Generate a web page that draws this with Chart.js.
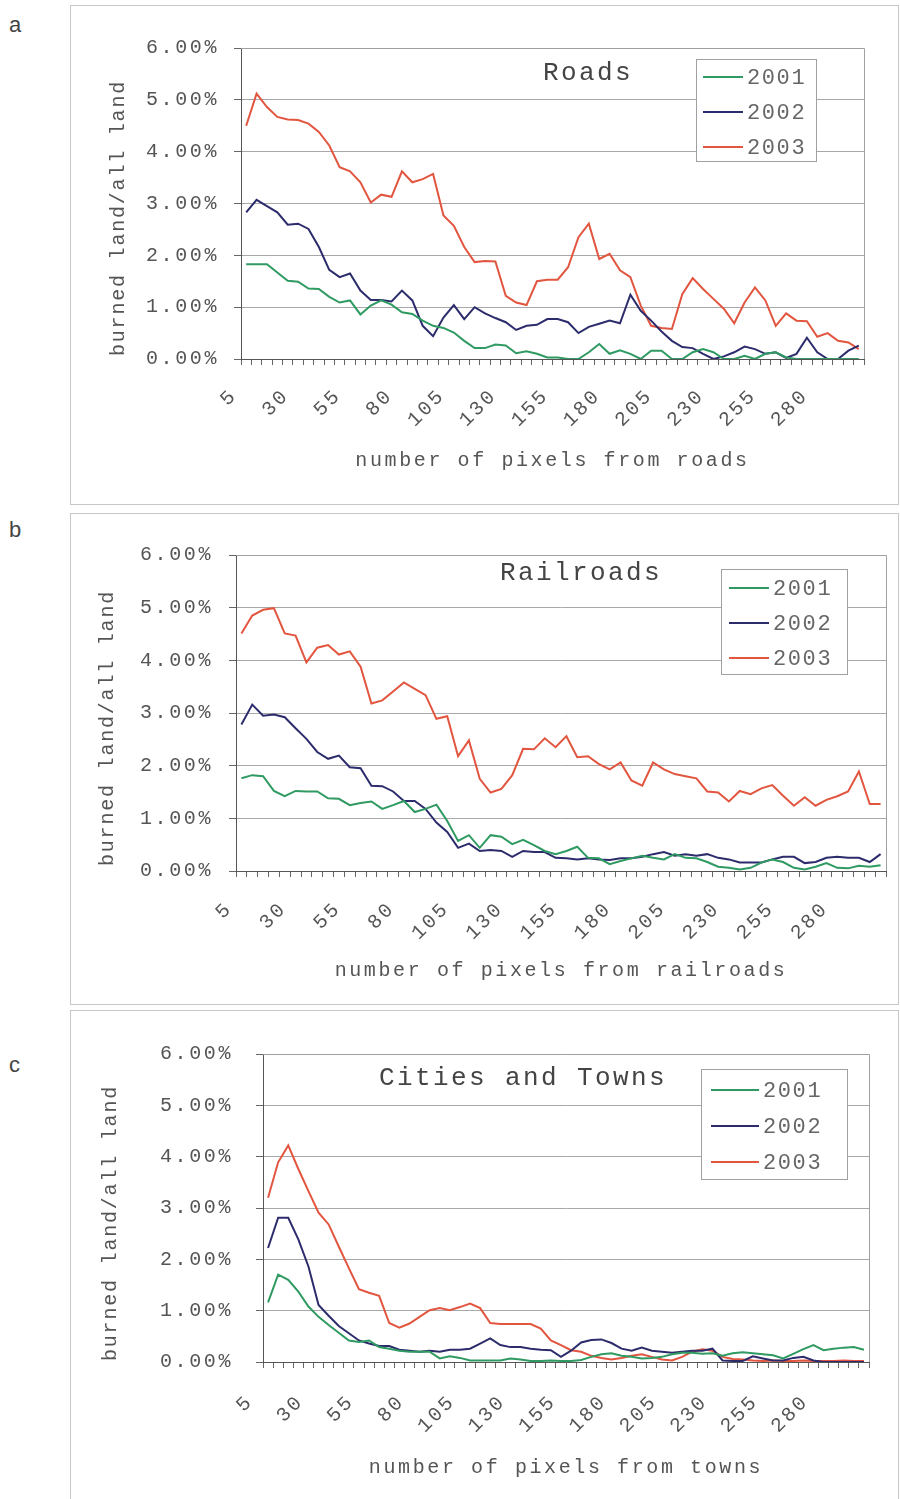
<!DOCTYPE html>
<html>
<head>
<meta charset="utf-8">
<script src="https://cdn.jsdelivr.net/npm/chart.js@4"></script>
<style>
  html, body { margin:0; padding:0; background:#fff; }
  body { width:900px; height:1499px; position:relative; overflow:hidden; }
  .box { position:absolute; left:70px; width:829px; border:1px solid #c8c8c8; box-sizing:border-box; background:#fff; }
  .letter { position:absolute; left:9px; font:22px "Liberation Sans", Arial, sans-serif; color:#444; }
  canvas { position:absolute; left:0; top:0; }
</style>
</head>
<body>
<div class="letter" style="top:12px">a</div>
<div class="letter" style="top:517px">b</div>
<div class="letter" style="top:1052px">c</div>
<div class="box" style="top:5px;height:500px"><canvas id="ca" width="829" height="500"></canvas></div>
<div class="box" style="top:513px;height:492px"><canvas id="cb" width="829" height="492"></canvas></div>
<div class="box" style="top:1010px;height:495px"><canvas id="cc" width="829" height="495"></canvas></div>
<script>
// ---------- data ----------
const categories = ['5','10','15','20','25','30','35','40','45','50','55','60','65','70','75','80','85','90','95','100',
  '105','110','115','120','125','130','135','140','145','150','155','160','165','170','175','180','185','190','195','200',
  '205','210','215','220','225','230','235','240','245','250','255','260','265','270','275','280','285','290','295','300'];
const tickLabels = ['5','30','55','80','105','130','155','180','205','230','255','280'];
const seriesNames = ['2001','2002','2003'];

const roads2001 = [1.83,1.83,1.83,1.67,1.51,1.49,1.36,1.35,1.20,1.09,1.13,0.86,1.03,1.13,1.05,0.90,0.87,0.74,0.64,0.60,
  0.51,0.35,0.21,0.21,0.28,0.26,0.11,0.15,0.10,0.03,0.03,0.00,0.00,0.13,0.29,0.10,0.17,0.10,0.00,0.16,
  0.16,0.00,0.00,0.13,0.19,0.13,0.00,0.00,0.06,0.00,0.10,0.13,0.03,0.00,0.00,0.00,0.00,0.00,0.00,0.00];
const roads2002 = [2.83,3.07,2.95,2.83,2.59,2.61,2.51,2.16,1.72,1.58,1.65,1.32,1.14,1.14,1.11,1.32,1.13,0.64,0.44,0.80,
  1.04,0.77,1.00,0.88,0.79,0.71,0.56,0.64,0.66,0.77,0.77,0.71,0.50,0.62,0.68,0.74,0.69,1.24,0.93,0.74,
  0.53,0.35,0.23,0.21,0.10,0.00,0.05,0.13,0.24,0.19,0.10,0.13,0.02,0.10,0.41,0.13,0.00,0.00,0.16,0.26];
const roads2003 = [4.50,5.12,4.86,4.67,4.62,4.61,4.54,4.38,4.12,3.70,3.62,3.41,3.02,3.17,3.13,3.62,3.41,3.47,3.57,2.77,
  2.57,2.16,1.87,1.89,1.88,1.22,1.09,1.04,1.50,1.53,1.53,1.77,2.35,2.61,1.93,2.03,1.71,1.58,1.03,0.64,
  0.60,0.58,1.25,1.56,1.35,1.16,0.97,0.69,1.09,1.38,1.13,0.64,0.88,0.74,0.73,0.43,0.50,0.35,0.32,0.19];

const rail2001 = [1.76,1.82,1.80,1.52,1.42,1.52,1.51,1.51,1.38,1.37,1.25,1.29,1.32,1.18,1.25,1.33,1.12,1.18,1.26,0.95,
  0.57,0.68,0.44,0.68,0.65,0.51,0.59,0.49,0.38,0.32,0.38,0.46,0.25,0.24,0.13,0.19,0.24,0.29,0.25,0.22,
  0.32,0.25,0.24,0.17,0.08,0.06,0.03,0.06,0.16,0.22,0.17,0.06,0.03,0.08,0.15,0.06,0.05,0.10,0.08,0.11];
const rail2002 = [2.78,3.16,2.95,2.97,2.92,2.71,2.51,2.26,2.13,2.19,1.97,1.95,1.62,1.61,1.51,1.33,1.33,1.18,0.92,0.74,
  0.44,0.52,0.38,0.40,0.38,0.27,0.38,0.36,0.36,0.25,0.24,0.22,0.24,0.22,0.21,0.24,0.24,0.27,0.32,0.36,
  0.29,0.32,0.29,0.32,0.25,0.22,0.16,0.16,0.16,0.22,0.27,0.27,0.15,0.17,0.25,0.27,0.25,0.25,0.17,0.32];
const rail2003 = [4.51,4.85,4.96,4.99,4.51,4.47,3.96,4.24,4.29,4.11,4.17,3.88,3.18,3.24,3.41,3.58,3.46,3.34,2.89,2.94,
  2.18,2.48,1.75,1.49,1.56,1.82,2.32,2.31,2.52,2.35,2.56,2.16,2.18,2.03,1.93,2.06,1.72,1.62,2.06,1.93,
  1.84,1.80,1.76,1.51,1.49,1.32,1.52,1.46,1.57,1.63,1.43,1.24,1.40,1.24,1.35,1.42,1.51,1.89,1.27,1.27];

const town2001 = [1.16,1.70,1.60,1.37,1.08,0.88,0.72,0.57,0.42,0.39,0.42,0.29,0.26,0.22,0.20,0.20,0.20,0.07,0.11,0.08,
  0.03,0.03,0.03,0.03,0.07,0.05,0.02,0.02,0.03,0.02,0.02,0.04,0.10,0.15,0.17,0.12,0.10,0.07,0.08,0.10,
  0.15,0.18,0.18,0.16,0.17,0.12,0.17,0.19,0.17,0.15,0.13,0.07,0.16,0.25,0.33,0.23,0.26,0.28,0.29,0.24];
const town2002 = [2.22,2.81,2.81,2.39,1.86,1.11,0.90,0.70,0.56,0.42,0.36,0.31,0.31,0.24,0.22,0.20,0.22,0.20,0.24,0.24,
  0.26,0.36,0.46,0.33,0.29,0.29,0.26,0.24,0.23,0.10,0.22,0.38,0.43,0.44,0.37,0.26,0.22,0.28,0.22,0.20,
  0.18,0.20,0.22,0.22,0.26,0.03,0.02,0.02,0.11,0.07,0.03,0.03,0.08,0.10,0.03,0.00,0.00,0.00,0.00,0.00];
const town2003 = [3.20,3.89,4.22,3.76,3.33,2.91,2.68,2.25,1.83,1.42,1.35,1.29,0.76,0.67,0.75,0.88,1.01,1.05,1.01,1.07,
  1.14,1.05,0.76,0.74,0.74,0.74,0.74,0.65,0.42,0.33,0.23,0.20,0.12,0.08,0.05,0.08,0.12,0.15,0.10,0.05,
  0.03,0.10,0.20,0.25,0.22,0.10,0.06,0.05,0.03,0.02,0.03,0.02,0.02,0.03,0.02,0.02,0.02,0.03,0.02,0.02];

// ---------- styles ----------
const COLORS = ['#2f9a62', '#2c2c6c', '#e2553f'];
const MONO = '"Liberation Mono", "Courier New", "DejaVu Sans Mono", monospace';
const TEXT = '#555';

const spacingPlugin = {
  id: 'spacing',
  beforeLayout(chart) { chart.ctx.letterSpacing = '2.6px'; },
  beforeDraw(chart) { chart.ctx.letterSpacing = '2.6px'; }
};

const annotPlugin = {
  id: 'annot',
  afterDraw(chart, args, o) {
    const ctx = chart.ctx, a = chart.chartArea;
    ctx.save();
    // plot-area border (top & right)
    ctx.strokeStyle = '#a0a0a0'; ctx.lineWidth = 1;
    ctx.beginPath();
    ctx.moveTo(a.left, a.top + 0.5); ctx.lineTo(a.right + 0.5, a.top + 0.5); ctx.lineTo(a.right + 0.5, a.bottom);
    ctx.stroke();
    // title inside plot
    ctx.fillStyle = '#444';
    ctx.letterSpacing = '2.4px';
    ctx.font = '26px ' + MONO;
    ctx.textAlign = 'center'; ctx.textBaseline = 'middle';
    ctx.fillText(o.title, o.titleX, o.titleY);
    // legend
    const L = o.legend;
    ctx.fillStyle = '#fff';
    ctx.fillRect(L.x, L.y, L.w, L.h);
    ctx.strokeStyle = '#a0a0a0';
    ctx.strokeRect(L.x + 0.5, L.y + 0.5, L.w, L.h);
    ctx.font = '22px ' + MONO;
    ctx.letterSpacing = '1.6px';
    ctx.textAlign = 'left';
    chart.data.datasets.forEach((ds, i) => {
      const yy = L.y + L.first + i * L.row;
      ctx.strokeStyle = ds.borderColor; ctx.lineWidth = 2;
      ctx.beginPath(); ctx.moveTo(L.x + L.lx0, yy); ctx.lineTo(L.x + L.lx1, yy); ctx.stroke();
      ctx.fillStyle = '#666';
      ctx.fillText(ds.label, L.x + L.tx, yy + 1);
    });
    // y-axis title
    ctx.translate(o.yTitleX, o.yTitleY);
    ctx.rotate(-Math.PI / 2);
    ctx.font = '20px ' + MONO;
    ctx.letterSpacing = '1.8px';
    ctx.fillStyle = TEXT;
    ctx.textAlign = 'center'; ctx.textBaseline = 'middle';
    ctx.fillText(o.yTitle, 0, 0);
    ctx.restore();
  }
};

function makeChart(id, s1, s2, s3, cfg) {
  return new Chart(document.getElementById(id), {
    type: 'line',
    data: {
      labels: categories,
      datasets: [s1, s2, s3].map((d, i) => ({
        label: seriesNames[i], data: d, borderColor: COLORS[i], backgroundColor: COLORS[i],
        borderWidth: 2, pointRadius: 0, tension: 0, fill: false
      }))
    },
    options: {
      responsive: false, animation: false,
      layout: { padding: { left: 0, top: cfg.top, right: cfg.right, bottom: cfg.pb } },
      plugins: {
        legend: { display: false }, tooltip: { enabled: false },
        annot: cfg.annot
      },
      scales: {
        x: {
          offset: true,
          grid: { offset: true, drawOnChartArea: false, tickLength: 6, tickColor: '#666' },
          border: { color: '#555', width: 1 },
          ticks: {
            autoSkip: false, minRotation: 45, maxRotation: 45, padding: cfg.xpad,
            labelOffset: cfg.labelOffset,
            font: { family: MONO, size: 20 }, color: TEXT,
            callback: (v, i) => tickLabels.includes(categories[i]) ? categories[i] : ''
          },
          title: { display: true, text: cfg.xTitle, font: { family: MONO, size: 20, lineHeight: 1.2 }, color: TEXT, padding: 0 },
          afterFit(s) { s.height = cfg.xh; s.paddingLeft = 0; s.paddingRight = 0; }
        },
        y: {
          min: 0, max: 6,
          grid: { color: '#a8a8a8', tickLength: 7, tickColor: '#666' },
          border: { color: '#555', width: 1 },
          ticks: { stepSize: 1, padding: cfg.ypad, font: { family: MONO, size: 20 }, color: TEXT,
                   callback: v => v.toFixed(2) + '%' },
          afterFit(s) { s.width = cfg.yw; s.paddingTop = 0; s.paddingBottom = 0; }
        }
      }
    },
    plugins: [spacingPlugin, annotPlugin]
  });
}

makeChart('ca', roads2001, roads2002, roads2003, {
  top: 42, right: 36, pb: 33, xh: 114, yw: 170, ypad: 15, labelOffset: -12, xpad: 19,
  xTitle: 'number of pixels from roads',
  annot: { title: 'Roads', titleX: 517, titleY: 67, yTitle: 'burned land/all land', yTitleX: 48, yTitleY: 212,
           legend: { x: 625, y: 53, w: 120, h: 102, first: 18, row: 35, lx0: 7, lx1: 47, tx: 51 } }
});
makeChart('cb', rail2001, rail2002, rail2003, {
  top: 41, right: 14, pb: 23, xh: 112, yw: 165, ypad: 16, labelOffset: -12, xpad: 20,
  xTitle: 'number of pixels from railroads',
  annot: { title: 'Railroads', titleX: 510, titleY: 59, yTitle: 'burned land/all land', yTitleX: 37, yTitleY: 214,
           legend: { x: 650, y: 55, w: 126, h: 105, first: 19, row: 35, lx0: 8, lx1: 48, tx: 52 } }
});
makeChart('cc', town2001, town2002, town2003, {
  top: 43, right: 31, pb: 26, xh: 118, yw: 192, ypad: 23, labelOffset: -18, xpad: 22,
  xTitle: 'number of pixels from towns',
  annot: { title: 'Cities and Towns', titleX: 452, titleY: 67, yTitle: 'burned land/all land', yTitleX: 40, yTitleY: 212,
           legend: { x: 630, y: 58, w: 146, h: 110, first: 21, row: 36, lx0: 10, lx1: 58, tx: 62 } }
});
</script>
</body>
</html>
